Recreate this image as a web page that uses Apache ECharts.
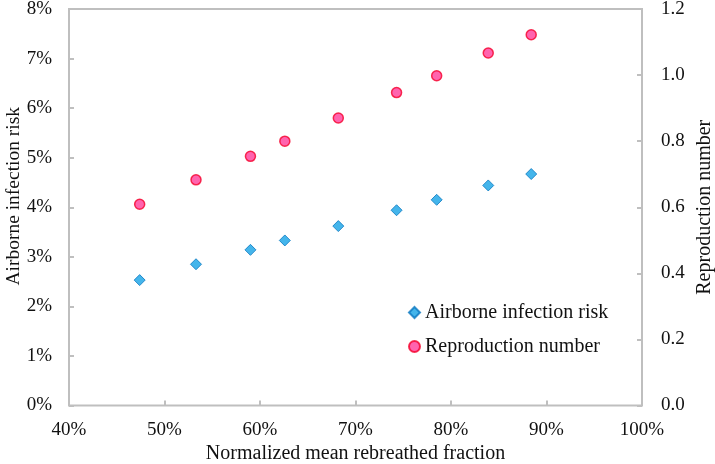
<!DOCTYPE html>
<html>
<head>
<meta charset="utf-8">
<script src="https://cdn.jsdelivr.net/npm/echarts@6/dist/echarts.min.js"></script>
<style>html,body{margin:0;padding:0;background:#fff}#c{width:715px;height:464px}</style>
</head>
<body>
<div id="c"></div>
<script>
// Normalized mean rebreathed fraction (%)
const rebreathedFraction = [47.4, 53.3, 59.0, 62.6, 68.2, 74.3, 78.5, 83.9, 88.4];
// Airborne infection risk (%)
const infectionRisk = [2.53, 2.85, 3.14, 3.33, 3.62, 3.94, 4.15, 4.44, 4.67];
// Reproduction number
const reproductionNumber = [0.609, 0.683, 0.754, 0.800, 0.870, 0.947, 0.998, 1.067, 1.122];
const xTicks = [40, 50, 60, 70, 80, 90, 100];
const leftTicks = [0, 1, 2, 3, 4, 5, 6, 7, 8];
const rightTicks = [0.0, 0.2, 0.4, 0.6, 0.8, 1.0, 1.2];

const FONT = 'Liberation Serif';
const TXT = '#111';
const AX = '#BFBFBF';

const chart = echarts.init(document.getElementById('c'), null, {renderer: 'canvas'});
chart.setOption({
  animation: false,
  backgroundColor: '#fff',
  textStyle: {fontFamily: FONT, color: TXT},
  grid: {left: 69, right: 73, top: 9, bottom: 58.5, show: true, borderColor: AX, borderWidth: 2,
         backgroundColor: 'transparent', containLabel: false, outerBoundsMode: 'none'},
  legend: {
    orient: 'vertical', left: 408, top: 302, padding: 0, itemWidth: 11, itemHeight: 11, itemGap: 13,
    textStyle: {fontFamily: FONT, fontSize: 20, color: TXT, lineHeight: 21},
    data: ['Airborne infection risk', 'Reproduction number']
  },
  xAxis: {
    type: 'value', min: xTicks[0], max: xTicks[xTicks.length - 1], interval: 10,
    name: 'Normalized mean rebreathed fraction', nameLocation: 'middle', nameGap: 38, nameMoveOverlap: false,
    nameTextStyle: {fontFamily: FONT, fontSize: 20, color: TXT},
    axisLine: {show: false},
    axisTick: {show: true, inside: true, length: 5, lineStyle: {color: AX, width: 2}},
    axisLabel: {fontFamily: FONT, fontSize: 19, color: TXT, margin: 15, formatter: v => v + '%'},
    splitLine: {show: false}
  },
  yAxis: [{
    type: 'value', position: 'left', min: leftTicks[0], max: leftTicks[leftTicks.length - 1], interval: 1,
    name: 'Airborne infection risk', nameLocation: 'middle', nameGap: 45, nameRotate: 90, nameMoveOverlap: false,
    nameTextStyle: {fontFamily: FONT, fontSize: 19.5, color: TXT, padding: [0, 0, 0, 22]},
    axisLine: {show: false},
    axisTick: {show: true, inside: true, length: 5, lineStyle: {color: AX, width: 2}},
    axisLabel: {fontFamily: FONT, fontSize: 19, color: TXT, margin: 17, formatter: v => v + '%'},
    splitLine: {show: false}
  }, {
    type: 'value', position: 'right', min: rightTicks[0], max: rightTicks[rightTicks.length - 1], interval: 0.2,
    name: 'Reproduction number', nameLocation: 'middle', nameGap: 53, nameRotate: 90, nameMoveOverlap: false,
    nameTextStyle: {fontFamily: FONT, fontSize: 20, color: TXT},
    axisLine: {show: false},
    axisTick: {show: true, inside: true, length: 5, lineStyle: {color: AX, width: 2}},
    axisLabel: {fontFamily: FONT, fontSize: 19, color: TXT, margin: 19, formatter: v => v.toFixed(1)},
    splitLine: {show: false}
  }],
  series: [{
    name: 'Airborne infection risk', type: 'scatter', yAxisIndex: 0,
    symbol: 'diamond', symbolSize: 11,
    itemStyle: {color: '#15A3E6', borderColor: '#0A78C0', borderWidth: 1},
    data: rebreathedFraction.map((x, i) => [x, infectionRisk[i]])
  }, {
    name: 'Reproduction number', type: 'scatter', yAxisIndex: 1,
    symbol: 'circle', symbolSize: 10,
    itemStyle: {color: '#FF3D9A', borderColor: '#F5002A', borderWidth: 1.5},
    data: rebreathedFraction.map((x, i) => [x, reproductionNumber[i]])
  }]
});
</script>
</body>
</html>
